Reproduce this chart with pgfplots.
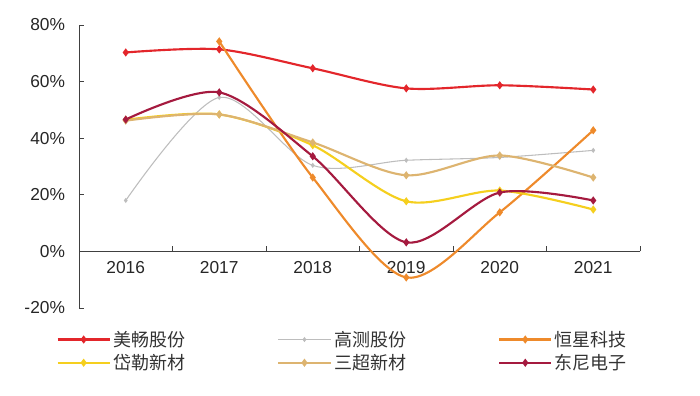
\documentclass[border=0pt]{standalone}
\usepackage{pgfplots}
\pgfplotsset{compat=1.18}
\usepackage{fontspec}
\setmainfont{Liberation Sans}
\newfontfamily\cjk{Noto Sans CJK SC}
\definecolor{cRed}{HTML}{E3262B}
\definecolor{cGray}{HTML}{BDBDBD}
\definecolor{cOrange}{HTML}{EE8A2B}
\definecolor{cYellow}{HTML}{F5CF1E}
\definecolor{cTan}{HTML}{DDB470}
\definecolor{cDark}{HTML}{A51A3F}
\begin{document}
\begin{tikzpicture}
\path[use as bounding box] (-59.25pt,-66pt) rectangle (465.75pt,231pt);
\begin{axis}[
  scale only axis, width=420.75pt, height=212.25pt,
  at={(0,0)}, anchor=south west,
  xmin=-0.5, xmax=5.5, ymin=-20, ymax=80,
  axis x line=middle, axis y line=left,
  axis line style={-, draw=black!75, line width=0.7pt},
  hide obscured x ticks=false, hide obscured y ticks=false,
  tick align=inside,
  xtick={0,...,5}, xticklabels={2016,2017,2018,2019,2020,2021},
  major x tick style={draw=none},
  minor xtick={-0.5,0.5,1.5,2.5,3.5,4.5,5.5},
  minor tick length=4pt, major tick length=4pt,
  tick style={black!75, line width=0.7pt},
  ytick={-20,0,20,40,60,80},
  yticklabel={\pgfmathprintnumber{\tick}\%},
  /pgf/number format/assume math mode=true,
  tick label style={font=\fontsize{13}{15}\selectfont, text=black!85},
  yticklabel style={xshift=-7pt},
  xticklabel style={yshift=-4pt},
  every axis plot/.append style={smooth, tension=0.5, line width=1.6pt, mark=diamond*, mark size=1.8pt},
  legend columns=3,
  legend cell align=left,
  legend style={at={(rel axis cs:0,0)}, anchor=north west, xshift=-20pt, yshift=-13pt,
    draw=none, fill=none, font=\cjk\fontsize{13.5}{15}\selectfont, text=black!80,
    /tikz/every even column/.append style={column sep=67pt}, row sep=0.5pt},
  legend image code/.code={\draw[mark repeat=2,mark phase=2] plot coordinates {(0pt,0pt)(19.5pt,0pt)(39pt,0pt)};},
]
\addplot[color=cRed] coordinates {(0,70.3)(1,71.4)(2,64.7)(3,57.6)(4,58.7)(5,57.2)};
\addlegendentry{美畅股份}
\addplot[color=cGray, line width=0.8pt, mark size=1.3pt] coordinates {(0,18)(1,54.4)(2,30.4)(3,32.2)(4,33.2)(5,35.7)};
\addlegendentry{高测股份}
\addplot[color=cOrange] coordinates {(1,74.2)(2,26.1)(3,-9.2)(4,13.8)(5,42.8)};
\addlegendentry{恒星科技}
\addplot[color=cYellow] coordinates {(0,46.5)(1,48.4)(2,37.5)(3,17.7)(4,21.5)(5,14.8)};
\addlegendentry{岱勒新材}
\addplot[color=cTan] coordinates {(0,46.2)(1,48.4)(2,38.5)(3,26.9)(4,33.9)(5,26.1)};
\addlegendentry{三超新材}
\addplot[color=cDark] coordinates {(0,46.6)(1,56.2)(2,33.6)(3,3.2)(4,20.8)(5,18)};
\addlegendentry{东尼电子}
\end{axis}
\end{tikzpicture}
\end{document}
